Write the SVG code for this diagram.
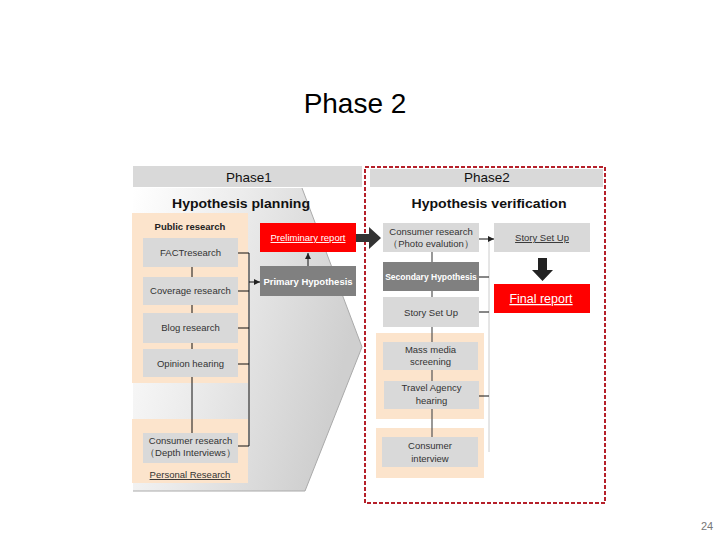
<svg xmlns="http://www.w3.org/2000/svg" width="720" height="540" viewBox="0 0 720 540">
<defs>
<linearGradient id="chev" x1="0" y1="0" x2="1" y2="0.35">
<stop offset="0" stop-color="#ffffff"/>
<stop offset="0.45" stop-color="#ebebeb"/>
<stop offset="1" stop-color="#cfcfcf"/>
</linearGradient>
<marker id="ah" viewBox="0 0 6 6" refX="6" refY="3" markerWidth="6" markerHeight="6" orient="auto" markerUnits="userSpaceOnUse">
<path d="M0,0 L6,3 L0,6 z" fill="#222"/>
</marker>
<style>
.t{font-family:"Liberation Sans",Arial,sans-serif;}
.bx{fill:#d9d9d9;}
.dk{fill:#808080;}
.rd{fill:#ff0000;}
.pn{fill:#fce4cc;}
.hd{fill:#d9d9d9;}
.bt{font-family:"Liberation Sans",Arial,sans-serif;font-size:9.5px;fill:#333;text-anchor:middle;}
.wt{font-family:"Liberation Sans",Arial,sans-serif;fill:#fff;text-anchor:middle;}
.ln{stroke:#111;stroke-width:1;fill:none;}
.ln2{stroke:#555;stroke-width:1.2;fill:none;}
</style>
</defs>
<rect width="720" height="540" fill="#fff"/>
<text class="t" x="355" y="113" font-size="28" text-anchor="middle" fill="#000">Phase 2</text>
<text class="t" x="707" y="530" font-size="11" text-anchor="middle" fill="#777">24</text>

<g id="phase1">
<rect class="hd" x="133" y="166" width="229" height="21"/>
<text class="t" x="249" y="182" font-size="13.5" text-anchor="middle" fill="#111">Phase1</text>
<polygon points="133,188 302,188 362,347 305,491 133,491" fill="url(#chev)"/>
<polyline points="302,188 362,347 305,491 133,491" fill="none" stroke="#aaa" stroke-width="1"/>
<text class="t" x="241" y="208" font-size="13" font-weight="bold" text-anchor="middle" fill="#111" textLength="138" lengthAdjust="spacingAndGlyphs">Hypothesis planning</text>
</g>

<g id="public-research">
<rect class="pn" x="132" y="213" width="116" height="170"/>
<text class="t" x="190" y="230" font-size="9.5" font-weight="bold" text-anchor="middle" fill="#222">Public research</text>
</g>
<g id="fact"><rect class="bx" x="143" y="238" width="95" height="29"/><text class="bt" x="190.5" y="256">FACTresearch</text></g>
<g id="coverage"><rect class="bx" x="143" y="277" width="95" height="28"/><text class="bt" x="190.5" y="294">Coverage research</text></g>
<g id="blog"><rect class="bx" x="143" y="313" width="95" height="30"/><text class="bt" x="190.5" y="331">Blog research</text></g>
<g id="opinion"><rect class="bx" x="143" y="349" width="95" height="28"/><text class="bt" x="190.5" y="367">Opinion hearing</text></g>

<g id="personal-research">
<rect class="pn" x="132" y="419" width="116" height="64"/>
<rect class="bx" x="143" y="433" width="95" height="30"/>
<text class="bt" x="190.5" y="444">Consumer research</text>
<text class="bt" x="190.5" y="456">（Depth Interviews）</text>
<text class="bt" x="190" y="478" fill="#222" text-decoration="underline">Personal Research</text>
</g>

<g id="preliminary"><rect class="rd" x="260" y="223" width="96" height="29"/><text class="wt" x="308" y="241" font-size="9.5" text-decoration="underline">Preliminary report</text></g>
<g id="primary"><rect class="dk" x="260" y="266" width="96" height="30"/><text class="wt" x="308" y="284.5" font-size="9.5" font-weight="bold">Primary Hypothesis</text></g>

<g id="phase2">
<rect x="365" y="167" width="240" height="336" fill="none" stroke="#b5202a" stroke-width="2" stroke-dasharray="4,2"/>
<rect class="hd" x="370" y="169" width="233" height="18"/>
<text class="t" x="487" y="182" font-size="13.5" text-anchor="middle" fill="#111">Phase2</text>
<text class="t" x="489" y="208" font-size="13" font-weight="bold" text-anchor="middle" fill="#111" textLength="155" lengthAdjust="spacingAndGlyphs">Hypothesis verification</text>
</g>

<g id="consumer-photo"><rect class="bx" x="383" y="223" width="96" height="29"/><text class="bt" x="431" y="235">Consumer research</text><text class="bt" x="431" y="247">（Photo evalution）</text></g>
<g id="secondary"><rect class="dk" x="383" y="262" width="96" height="29"/><text class="wt" x="431" y="280" font-size="8.5" font-weight="bold">Secondary Hypothesis</text></g>
<g id="story1"><rect class="bx" x="383" y="297" width="96" height="30"/><text class="bt" x="431" y="316">Story Set Up</text></g>
<g id="media-panel"><rect class="pn" x="376" y="333" width="108" height="86"/></g>
<g id="massmedia"><rect class="bx" x="383" y="342" width="95" height="28"/><text class="bt" x="430.5" y="353">Mass media</text><text class="bt" x="430.5" y="365">screening</text></g>
<g id="travel"><rect class="bx" x="384" y="381" width="95" height="28"/><text class="bt" x="431.5" y="391">Travel Agency</text><text class="bt" x="431.5" y="404">hearing</text></g>
<g id="interview-panel"><rect class="pn" x="376" y="428" width="108" height="50"/></g>
<g id="interview"><rect class="bx" x="382" y="437" width="96" height="30"/><text class="bt" x="430" y="449">Consumer</text><text class="bt" x="430" y="462">interview</text></g>
<g id="story2"><rect class="bx" x="494" y="223" width="96" height="29"/><text class="bt" x="542" y="241" text-decoration="underline">Story Set Up</text></g>
<g id="final"><rect class="rd" x="494" y="284" width="96" height="29"/><text class="wt" x="541" y="303" font-size="12.5" text-decoration="underline">Final report</text></g>

<g id="connectors">
<path class="ln" d="M192,267V277M192,305V313M192,343V349M192,377V433"/>
<path class="ln" d="M238,253H249M238,291H249M238,328H249M238,364H249M238,446H249M249,253V446"/>
<line class="ln" x1="249" y1="282" x2="260" y2="282" marker-end="url(#ah)"/>
<line class="ln" x1="308" y1="266" x2="308" y2="253" marker-end="url(#ah)"/>
<polygon points="356,234 369,234 369,227 381,238 369,249 369,242 356,242" fill="#333"/>
<path class="ln2" d="M432,252V262M432,291V297M432,327V342M432,370V381M432,409V437"/>
<line x1="489" y1="240" x2="489" y2="452" stroke="#ccc" stroke-width="1"/>
<path class="ln" d="M479,277H489M479,312H489M479,396H489"/>
<line class="ln" x1="479" y1="239" x2="494" y2="239" marker-end="url(#ah)"/>
<polygon points="538,258 547,258 547,270 553,270 542.5,281 532,270 538,270" fill="#222"/>
</g>
</svg>
